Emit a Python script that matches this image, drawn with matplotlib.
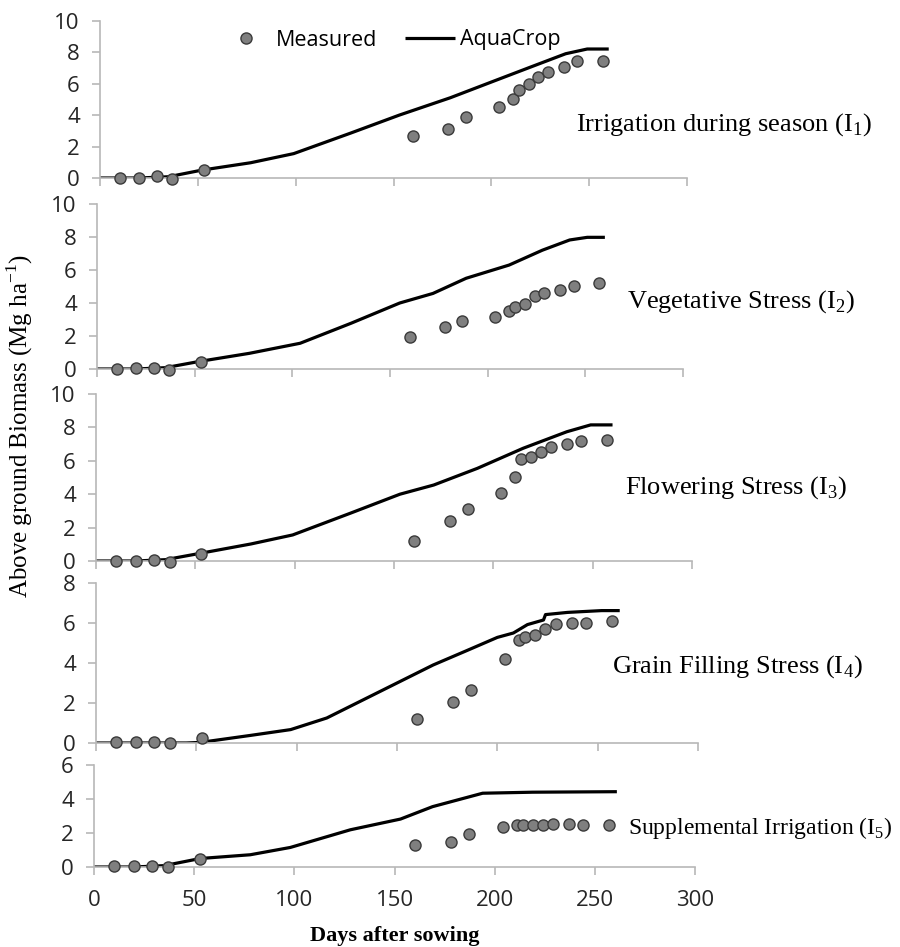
import numpy as np
import matplotlib
matplotlib.use("Agg")
import matplotlib.pyplot as plt

# -------------------------------
# Data
# -------------------------------
sample_days = [10, 20, 29, 37, 53, 160, 178, 187, 204, 211, 214, 219, 224, 229, 237, 244, 257]

measured_i1 = [0.0, 0.0, 0.13, -0.04, 0.5, 2.67, 3.1, 3.9, 4.53, 5.04, 5.6, 5.98, 6.44, 6.74, 7.03, 7.46, 7.44]
measured_i2 = [0.0, 0.05, 0.05, -0.05, 0.4, 1.92, 2.56, 2.9, 3.13, 3.5, 3.76, 3.92, 4.42, 4.62, 4.81, 5.0, 5.2]
measured_i3 = [0.0, 0.0, 0.05, -0.05, 0.44, 1.2, 2.42, 3.11, 4.1, 5.05, 6.09, 6.21, 6.55, 6.81, 7.0, 7.17, 7.25]
measured_i4 = [0.05, 0.05, 0.05, 0.0, 0.25, 1.2, 2.04, 2.63, 4.2, 5.13, 5.3, 5.4, 5.7, 5.95, 6.02, 6.02, 6.12]
measured_i5 = [0.04, 0.04, 0.05, -0.02, 0.49, 1.29, 1.5, 1.97, 2.35, 2.46, 2.46, 2.46, 2.46, 2.52, 2.52, 2.46, 2.46]

model_days_i1 = [0, 20, 35, 52, 77, 99, 128, 153, 179, 200, 220, 238, 249, 260]
model_i1 = [0, 0, 0.08, 0.5, 0.97, 1.55, 2.85, 4.0, 5.1, 6.1, 7.05, 7.9, 8.2, 8.2]

model_days_i2 = [0, 20, 35, 52, 78, 104, 130, 155, 172, 189, 211, 228, 242, 251, 260]
model_i2 = [0, 0, 0.08, 0.45, 0.95, 1.56, 2.77, 4.0, 4.58, 5.5, 6.3, 7.2, 7.82, 7.98, 7.98]

model_days_i3 = [0, 20, 35, 52, 78, 99, 128, 153, 170, 192, 215, 237, 249, 260]
model_i3 = [0, 0, 0.08, 0.45, 1.02, 1.56, 2.86, 4.0, 4.55, 5.55, 6.75, 7.74, 8.15, 8.15]

model_days_i4 = [0, 20, 45, 52, 77, 97, 115, 127, 152, 168, 185, 200, 208, 215, 223, 224, 235, 252, 261]
model_i4 = [0, 0, 0, 0.03, 0.38, 0.67, 1.25, 1.85, 3.1, 3.9, 4.63, 5.28, 5.5, 5.92, 6.15, 6.42, 6.53, 6.62, 6.62]

model_days_i5 = [0, 20, 35, 53, 78, 98, 128, 153, 169, 194, 219, 261]
model_i5 = [0, 0, 0.08, 0.5, 0.72, 1.15, 2.19, 2.82, 3.55, 4.34, 4.4, 4.43]

labels = [
    r"Irrigation during season (I$_\mathregular{1}$)",
    r"Vegetative Stress (I$_\mathregular{2}$)",
    r"Flowering Stress (I$_\mathregular{3}$)",
    r"Grain Filling Stress (I$_\mathregular{4}$)",
    r"Supplemental Irrigation (I$_\mathregular{5}$)",
]
y_max = [10, 10, 10, 8, 6]

measured = [measured_i1, measured_i2, measured_i3, measured_i4, measured_i5]
models = [(model_days_i1, model_i1), (model_days_i2, model_i2), (model_days_i3, model_i3),
          (model_days_i4, model_i4), (model_days_i5, model_i5)]

# -------------------------------
# Layout (pixel boxes of each panel: left, right, y of zero, y of top)
# -------------------------------
W, H = 900, 947
boxes = [
    (100, 687, 178, 20.7),
    (97, 683, 369, 204),
    (96, 692, 561, 394),
    (96, 698, 743, 583),
    (94, 695, 867, 765),
]
label_pos = [(576, 131), (627, 308), (625, 494), (612, 673), (628, 834)]
label_size = [19, 19, 19, 19, 17]

plt.rcParams["font.family"] = ["Open Sans", "DejaVu Sans"]
plt.rcParams["mathtext.fontset"] = "dejavusans"

fig = plt.figure(figsize=(W / 100, H / 100), dpi=100)
axis_grey = "#b8b8b8"

axes = []
for i, (left, right, y0, ytop) in enumerate(boxes):
    ax = fig.add_axes([left / W, 1 - y0 / H, (right - left) / W, (y0 - ytop) / H])
    days_m, vals_m = models[i]
    ax.plot(days_m, vals_m, color="black", lw=2.3, zorder=2, label="AquaCrop",
            solid_capstyle="butt")
    ax.plot(sample_days, measured[i], "o", ms=8, mfc="#7f7f7f", mec="#3a3a3a", mew=1,
            zorder=3, clip_on=False, label="Measured")
    ax.set_xlim(0, 300)
    ax.set_ylim(0, y_max[i])
    ax.set_xticks(np.arange(0, 301, 50))
    ax.set_yticks(np.arange(0, y_max[i] + 1, 2))
    for s in ["top", "right"]:
        ax.spines[s].set_visible(False)
    for s in ["left", "bottom"]:
        ax.spines[s].set_color(axis_grey)
        ax.spines[s].set_linewidth(1.2)
    ax.tick_params(axis="both", direction="out", color=axis_grey, width=1.2, length=5.5,
                   labelsize=16, labelcolor="#262626")
    ax.tick_params(axis="y", pad=9)
    ax.tick_params(axis="x", pad=11, labelbottom=(i == len(boxes) - 1))
    ax.patch.set_alpha(0)
    fig.text(label_pos[i][0] / W, 1 - label_pos[i][1] / H, labels[i],
             fontfamily="Liberation Serif", fontsize=label_size[i], ha="left", va="baseline")
    axes.append(ax)

# legend (top panel)
h, l = axes[0].get_legend_handles_labels()
axes[0].legend(h[::-1], l[::-1], ncol=2, frameon=False, fontsize=15.5, loc="center",
               bbox_to_anchor=(391 / W, 1 - 40 / H), bbox_transform=fig.transFigure,
               handlelength=2.3, handletextpad=0.25, columnspacing=1.3)

fig.text(20 / W, 1 - 426 / H, r"Above ground Biomass (Mg ha$^{\mathregular{-1}}$)",
         fontfamily="Liberation Serif", fontsize=18, rotation=90, ha="center", va="center")
fig.text(395 / W, 1 - 941 / H, "Days after sowing", fontfamily="Liberation Serif",
         fontweight="bold", fontsize=16, ha="center", va="baseline")

fig.savefig("out.png", dpi=100)
